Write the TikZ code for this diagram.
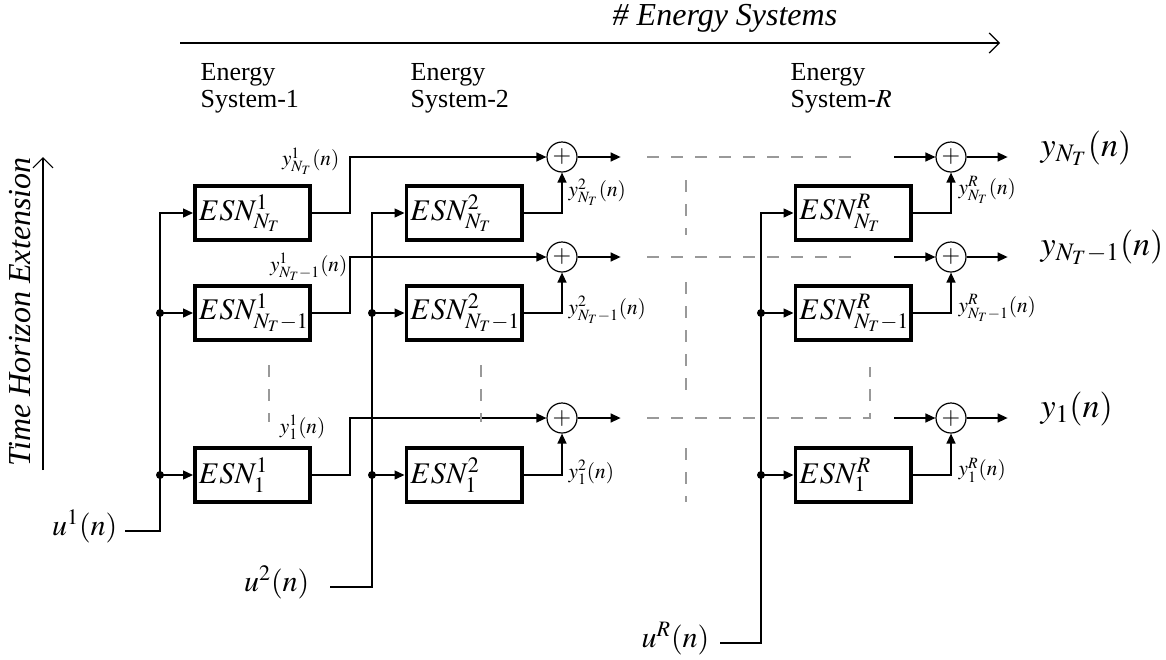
\documentclass[tikz,border=0pt]{standalone}
\usepackage{mathptmx}
\usepackage{fontspec}
\setmainfont{Liberation Serif}
\usetikzlibrary{arrows.meta}
\DeclareMathSizes{15}{15}{11}{8}

\tikzset{
  esn/.style={draw, line width=1.8pt, minimum height=27.2pt, text width=53.7pt,
    inner xsep=2pt, inner ysep=0pt, align=left, font=\fontsize{15}{17}\selectfont},
  somma/.style={draw, circle, line width=0.6pt, minimum size=15pt, inner sep=0pt,
    font=\fontsize{12}{12}\selectfont},
  freccia/.style={-{Triangle[length=5pt,width=4.5pt]}},
  barb/.style={-{Straight Barb[length=5pt,width=10pt]}, line width=0.6pt},
  tratt/.style={draw=black!40, line width=1pt, dash pattern=on 6pt off 6pt},
  piccola/.style={inner sep=0pt, font=\fontsize{10.6}{12}\selectfont},
  uscita/.style={inner sep=0pt, font=\fontsize{17}{19}\selectfont},
  ingresso/.style={inner sep=0pt, font=\fontsize{15}{17}\selectfont},
  testa/.style={inner sep=0pt, align=left, anchor=west, font=\fontsize{13}{13.5}\selectfont},
}

\begin{document}
\begin{tikzpicture}[x=0.5pt, y=-0.5pt, line width=0.7pt]
  \useasboundingbox (0,0) rectangle (1166,659);

  % Assi
  \draw[barb] (180,43) -- (1000,43);
  \node[inner sep=0pt, font=\fontsize{16}{18}\selectfont\itshape] (asse) at (725,18) {\# Energy Systems};
  \draw[barb] (43,470) -- (43,157);
  \node[inner sep=0pt, rotate=90, font=\fontsize{16}{18}\selectfont\itshape] (tempo) at (20,312) {Time Horizon Extension};

  % Intestazioni
  \node[testa] (es1) at (200,88) {Energy\\System-1};
  \node[testa] (es2) at (410,88) {Energy\\System-2};
  \node[testa] (esR) at (790,88) {Energy\\System-$R$};

  % Blocchi ESN
  \node[esn] (b11) at (252.5,213) {$ESN^1_{N_T}$};
  \node[esn] (b12) at (252.5,313) {$ESN^1_{N_T-1}$};
  \node[esn] (b13) at (252.5,475) {$ESN^1_1$};
  \node[esn] (b21) at (464,213) {$ESN^2_{N_T}$};
  \node[esn] (b22) at (464,313) {$ESN^2_{N_T-1}$};
  \node[esn] (b23) at (464,475) {$ESN^2_1$};
  \node[esn] (bR1) at (853,213) {$ESN^R_{N_T}$};
  \node[esn] (bR2) at (853,313) {$ESN^R_{N_T-1}$};
  \node[esn] (bR3) at (853,475) {$ESN^R_1$};

  % Sommatori
  \node[somma] (s21) at (562,157) {$+$};
  \node[somma] (s22) at (562,257) {$+$};
  \node[somma] (s23) at (562,418) {$+$};
  \node[somma] (sR1) at (951,157) {$+$};
  \node[somma] (sR2) at (951,257) {$+$};
  \node[somma] (sR3) at (951,418) {$+$};

  % Ingressi
  \coordinate (p1) at (125,531);
  \coordinate (v1) at (160,531);
  \node[ingresso, anchor=base east] (u1) at (118,535) {$u^1(n)$};
  \draw[freccia] (p1) -- (v1) -- (v1 |- b11.west) -- (b11.west);
  \draw[freccia] (v1 |- b12.west) -- (b12.west);
  \draw[freccia] (v1 |- b13.west) -- (b13.west);
  \fill (v1 |- b12.west) circle (2pt) (v1 |- b13.west) circle (2pt);

  \coordinate (p2) at (330,587);
  \coordinate (v2) at (372,587);
  \node[ingresso, anchor=base east] (u2) at (310,591) {$u^2(n)$};
  \draw[freccia] (p2) -- (v2) -- (v2 |- b21.west) -- (b21.west);
  \draw[freccia] (v2 |- b22.west) -- (b22.west);
  \draw[freccia] (v2 |- b23.west) -- (b23.west);
  \fill (v2 |- b22.west) circle (2pt) (v2 |- b23.west) circle (2pt);

  \coordinate (pR) at (720,643);
  \coordinate (vR) at (761,643);
  \node[ingresso, anchor=base east] (uR) at (710,647) {$u^R(n)$};
  \draw[freccia] (pR) -- (vR) -- (vR |- bR1.west) -- (bR1.west);
  \draw[freccia] (vR |- bR2.west) -- (bR2.west);
  \draw[freccia] (vR |- bR3.west) -- (bR3.west);
  \fill (vR |- bR2.west) circle (2pt) (vR |- bR3.west) circle (2pt);

  % Uscite sistema 1
  \draw[freccia] (b11.east) -- ++(38,0) |- (s21.west);
  \draw[freccia] (b12.east) -- ++(38,0) |- (s22.west);
  \draw[freccia] (b13.east) -- ++(38,0) |- (s23.west);
  \node[piccola, anchor=east] (y11) at (340,161) {$y^1_{N_T}(n)$};
  \node[piccola, anchor=east] (y12) at (348,267) {$y^1_{N_T-1}(n)$};
  \node[piccola, anchor=east] (y13) at (326,427) {$y^1_1(n)$};

  % Uscite sistema 2
  \draw[freccia] (b21.east) -| (s21.south);
  \draw[freccia] (b22.east) -| (s22.south);
  \draw[freccia] (b23.east) -| (s23.south);
  \draw[freccia] (s21.east) -- ++(43,0);
  \draw[freccia] (s22.east) -- ++(43,0);
  \draw[freccia] (s23.east) -- ++(43,0);
  \node[piccola, anchor=west] (y21) at (568,192) {$y^2_{N_T}(n)$};
  \node[piccola, anchor=west] (y22) at (568,310) {$y^2_{N_T-1}(n)$};
  \node[piccola, anchor=west] (y23) at (568,472) {$y^2_1(n)$};

  % Uscite sistema R
  \draw[freccia] ([xshift=-20.5pt]sR1.west) -- (sR1.west);
  \draw[freccia] ([xshift=-20.5pt]sR2.west) -- (sR2.west);
  \draw[freccia] ([xshift=-20.5pt]sR3.west) -- (sR3.west);
  \draw[freccia] (bR1.east) -| (sR1.south);
  \draw[freccia] (bR2.east) -| (sR2.south);
  \draw[freccia] (bR3.east) -| (sR3.south);
  \draw[freccia] (sR1.east) -- ++(41,0);
  \draw[freccia] (sR2.east) -- ++(41,0);
  \draw[freccia] (sR3.east) -- ++(41,0);
  \node[piccola, anchor=west] (yR1) at (958,190) {$y^R_{N_T}(n)$};
  \node[piccola, anchor=west] (yR2) at (958,308) {$y^R_{N_T-1}(n)$};
  \node[piccola, anchor=west] (yR3) at (958,470) {$y^R_1(n)$};
  \node[uscita, anchor=base west] (o1) at (1040,156) {$y_{N_T}(n)$};
  \node[uscita, anchor=base west] (o2) at (1040,255) {$y_{N_T-1}(n)$};
  \node[uscita, anchor=base west] (o3) at (1040,417) {$y_1(n)$};

  % Puntini (sistemi e orizzonte)
  \draw[tratt] (647,157) -- (855,157);
  \draw[tratt] (647,257) -- (855,257);
  \draw[tratt] (647,418) -- (870,418) -- (870,367);
  \draw[tratt] (269,365) -- (269,422);
  \draw[tratt] (481,365) -- (481,422);
  \draw[tratt] (686,180) -- (686,235);
  \draw[tratt] (686,282) -- (686,390);
  \draw[tratt] (686,448) -- (686,502);
\end{tikzpicture}
\end{document}
